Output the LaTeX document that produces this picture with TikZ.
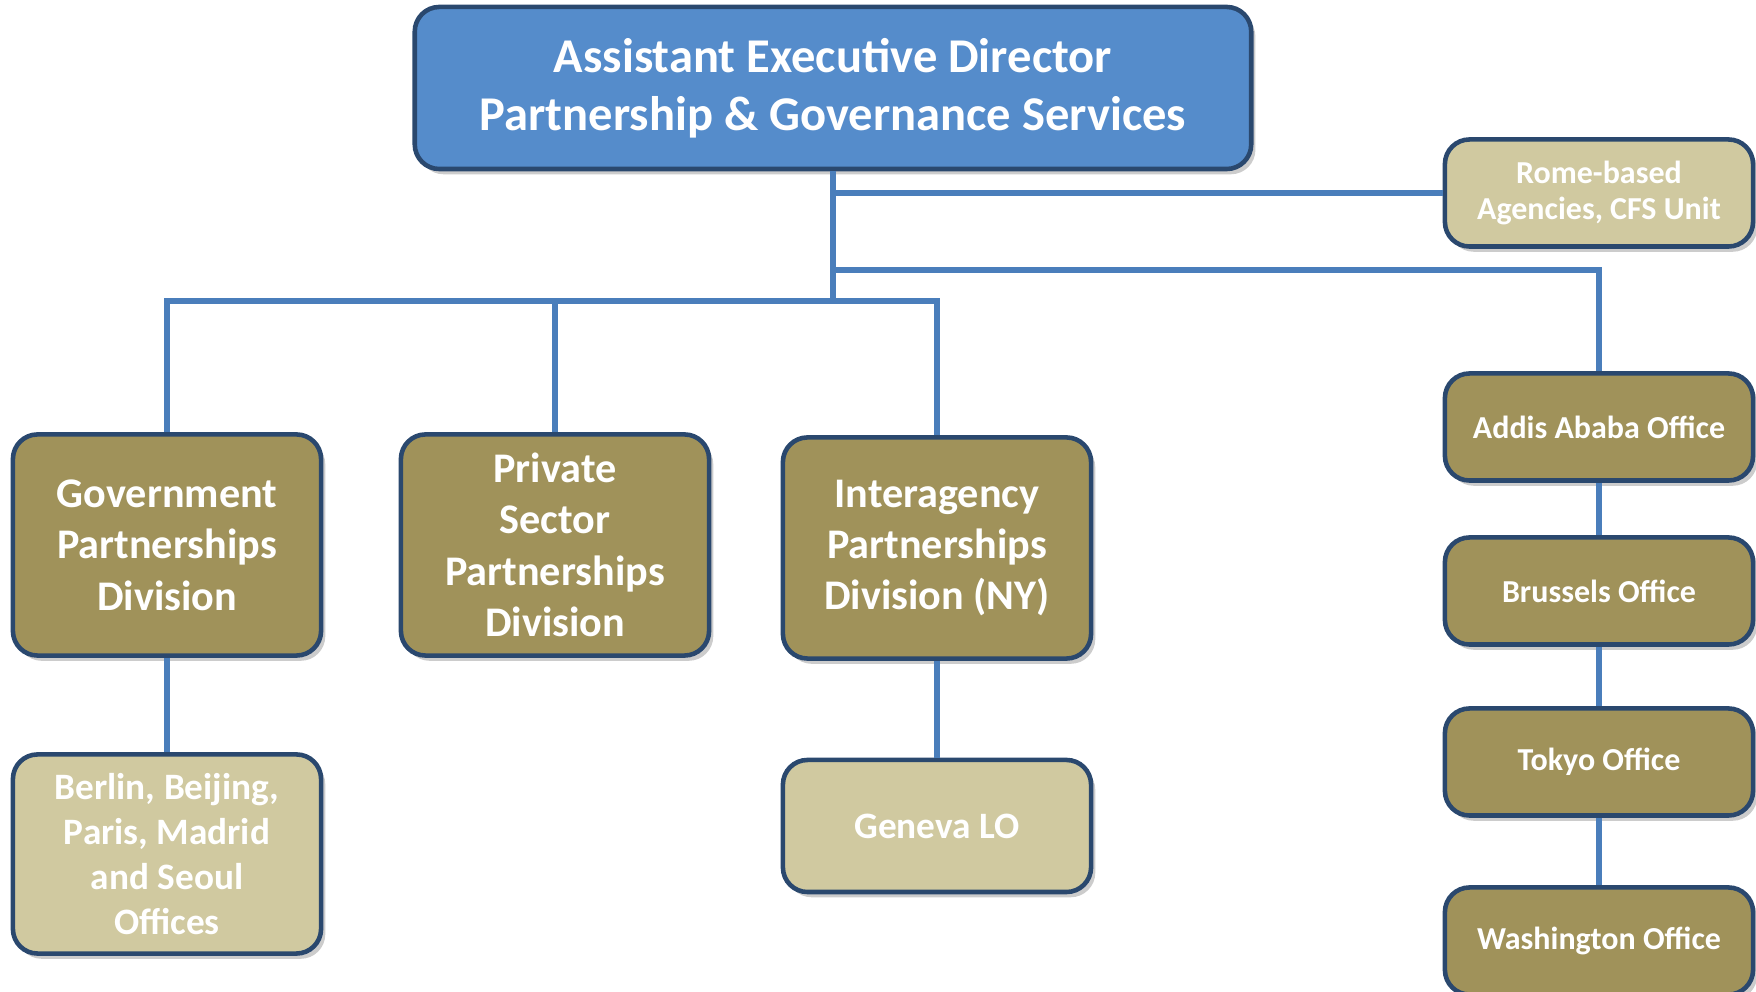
\documentclass[tikz,border=0pt]{standalone}
\usepackage{fontspec}
\setmainfont{Carlito}
\usetikzlibrary{positioning,shadows}
\definecolor{headblue}{RGB}{85,140,203}
\definecolor{rimblue}{RGB}{42,72,110}
\definecolor{olive}{RGB}{160,146,90}
\definecolor{sand}{RGB}{208,201,160}
\definecolor{linkblue}{RGB}{74,126,187}

\begin{document}
\begin{tikzpicture}[x=0.01cm,y=-0.01cm,
    unit/.style={draw=rimblue, line width=1.3pt, rounded corners=7pt,
      text=white, align=center, inner sep=0pt,
      drop shadow={opacity=0.4,shadow xshift=1.2pt,shadow yshift=-1.5pt}},
    head/.style={unit, fill=headblue, minimum width=8.36cm, minimum height=1.62cm,
      font=\fontsize{13.8}{16.6}\selectfont\bfseries},
    division/.style={unit, fill=olive, minimum width=3.08cm, minimum height=2.21cm,
      font=\fontsize{12}{14.6}\selectfont\bfseries},
    office/.style={unit, fill=olive, minimum width=3.08cm, minimum height=1.07cm,
      font=\fontsize{9.1}{10.5}\selectfont\bfseries},
    liaison/.style={unit, fill=sand, minimum width=3.08cm,
      font=\fontsize{10.6}{12.8}\selectfont\bfseries},
    link/.style={draw=linkblue, line width=1.7pt}]
  \useasboundingbox (0,0) rectangle (1756,992);

  % top of the chart
  \node[head] (aed) at (833,88) {Assistant Executive Director\\Partnership \& Governance Services};
  \node[office, fill=sand] (rome) at (1599,193) {Rome-based\\Agencies, CFS Unit};

  % divisions
  \node[division] (gpd) at (167,545) {Government\\Partnerships\\Division};
  \node[division] (pspd) at (555,545) {Private\\Sector\\Partnerships\\Division};
  \node[division] (ipd) at (937,548) {Interagency\\Partnerships\\Division (NY)};
  \node[liaison, minimum height=1.99cm] (capitals) at (167,854) {Berlin, Beijing,\\Paris, Madrid\\and Seoul\\Offices};
  \node[liaison, minimum height=1.32cm] (geneva) at (937,826) {Geneva LO};

  % liaison offices on the right
  \node[office] (addis) at (1599,427) {Addis Ababa Office};
  \node[office] (brussels) at (1599,591) {Brussels Office};
  \node[office] (tokyo) at (1599,762) {Tokyo Office};
  \node[office] (washington) at (1599,941) {Washington Office};

  \coordinate (hubR) at (833,270);
  \coordinate (hubL) at (833,301);

  \begin{scope}[on background layer/.try]
  \path[link]
    (aed.south) -- (hubL)
    (aed.south) |- (rome.west)
    (hubR) -| (addis.north)
    (gpd.north) |- (hubL) -| (ipd.north)
    (pspd.north) -- (pspd.north |- hubL)
    (gpd.south) -- (capitals.north)
    (ipd.south) -- (geneva.north)
    (addis.south) -- (brussels.north)
    (brussels.south) -- (tokyo.north)
    (tokyo.south) -- (washington.north);
  \end{scope}
\end{tikzpicture}
\end{document}
